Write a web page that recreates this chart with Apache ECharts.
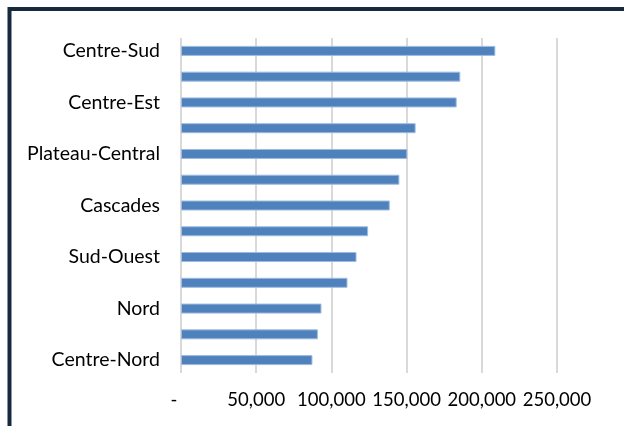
<!DOCTYPE html>
<html>
<head>
<meta charset="utf-8">
<style>
  html, body { margin: 0; padding: 0; background: #ffffff; }
  #chart { width: 624px; height: 426px; }
</style>
<script src="https://cdn.jsdelivr.net/npm/echarts@6/dist/echarts.min.js"></script>
</head>
<body>
<div id="chart"></div>
<script>
// Regions, listed from top to bottom
const regions = [
  'Centre-Sud', 'Centre', 'Centre-Est', 'Boucle du Mouhoun', 'Plateau-Central',
  'Centre-Ouest', 'Cascades', 'Est', 'Sud-Ouest', 'Hauts-Bassins',
  'Nord', 'Sahel', 'Centre-Nord'
];
const values = [
  209000, 185700, 183300, 156000, 150500,
  145200, 138800, 124400, 116700, 110700,
  93400, 91000, 87400
];
const xTicks = [0, 50000, 100000, 150000, 200000, 250000];

const fontFamily = 'Lato, "Open Sans", sans-serif';

function fmtTick(v) {
  if (v === 0) return '-   ';
  return v.toLocaleString('en-US');
}

const chart = echarts.init(document.getElementById('chart'), null, { renderer: 'canvas' });
chart.setOption({
  animation: false,
  backgroundColor: '#ffffff',
  grid: { left: 181, right: 67, top: 38, bottom: 53, containLabel: false },
  xAxis: {
    type: 'value',
    min: xTicks[0],
    max: xTicks[xTicks.length - 1],
    interval: 50000,
    axisLine: { show: false },
    axisTick: { show: false },
    splitLine: { show: true, lineStyle: { color: '#d9d9d9', width: 2 } },
    axisLabel: {
      formatter: fmtTick,
      color: '#000000',
      fontFamily: fontFamily,
      fontSize: 18.5,
      margin: 18
    }
  },
  yAxis: {
    type: 'category',
    inverse: true,
    data: regions,
    axisLine: { show: false },
    axisTick: { show: false },
    splitLine: { show: false },
    axisLabel: {
      interval: 1,
      color: '#000000',
      fontFamily: fontFamily,
      fontSize: 19.5,
      margin: 21
    }
  },
  series: [{
    type: 'bar',
    data: values,
    barWidth: 10,
    itemStyle: { color: '#4f81bd', borderColor: '#9dbbe0', borderWidth: 1 }
  }],
  graphic: [{
    type: 'rect',
    shape: { x: 9.5, y: 9, width: 700, height: 600 },
    style: { fill: 'none', stroke: '#17293f', lineWidth: 4 },
    silent: true
  }]
});
</script>
</body>
</html>
